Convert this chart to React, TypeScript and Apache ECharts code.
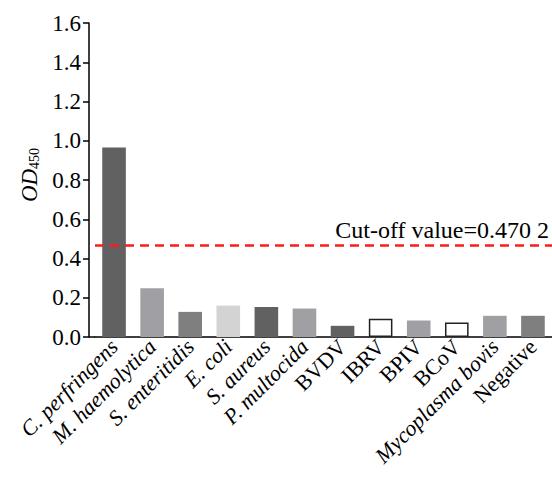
import React, { useEffect, useRef } from "react";
import * as echarts from "echarts";

const categories = [
  "C. perfringens",
  "M. haemolytica",
  "S. enteritidis",
  "E. coli",
  "S. aureus",
  "P. multocida",
  "BVDV",
  "IBRV",
  "BPIV",
  "BCoV",
  "Mycoplasma bovis",
  "Negative",
];
const italicCats = [true, true, true, true, true, true, false, false, false, false, true, false];
const values = [0.965, 0.248, 0.128, 0.16, 0.153, 0.145, 0.057, 0.093, 0.084, 0.074, 0.108, 0.108];
const fillColors = ["#616161", "#a0a0a4", "#7f7f7f", "#d3d3d3", "#616161", "#a0a0a4", "#616161", "#ffffff", "#a0a0a4", "#ffffff", "#a0a0a4", "#7f7f7f"];
const outlined = [false, false, false, false, false, false, false, true, false, true, false, false];
const cutoff = 0.4702;
const cutoffLabel = "Cut-off value=0.470 2";

const FONT = "Liberation Serif";
const GRID_LEFT = 95;
const GRID_RIGHT = -3;
const GRID_TOP = 23;
const GRID_BOTTOM = 141;
const Y_OFFSET = 6;

export default function App() {
  const ref = useRef<HTMLDivElement>(null);
  useEffect(() => {
    if (!ref.current) return;
    const chart = echarts.init(ref.current, null, { renderer: "svg" });
    chart.setOption({
      animation: false,
      backgroundColor: "#ffffff",
      textStyle: { fontFamily: FONT },
      grid: { left: GRID_LEFT, right: GRID_RIGHT, top: GRID_TOP, bottom: GRID_BOTTOM, containLabel: false },
      graphic: [
        {
          type: "line",
          shape: { x1: GRID_LEFT - Y_OFFSET, y1: 478 - GRID_BOTTOM, x2: GRID_LEFT, y2: 478 - GRID_BOTTOM },
          style: { stroke: "#000", lineWidth: 1.5 },
          silent: true,
        },
      ],
      xAxis: {
        type: "category",
        data: categories,
        axisLine: { lineStyle: { color: "#000", width: 1.5 } },
        axisTick: { show: false },
        axisLabel: {
          rotate: 45,
          interval: 0,
          margin: 6,
          color: "#000",
          fontFamily: FONT,
          fontSize: 22,
          formatter: (v: string, i: number) => (italicCats[i] ? `{i|${v}}` : `{n|${v}}`),
          rich: {
            i: { fontStyle: "italic", fontFamily: FONT, fontSize: 22, color: "#000" },
            n: { fontStyle: "normal", fontFamily: FONT, fontSize: 22, color: "#000" },
          },
        },
      },
      yAxis: {
        type: "value",
        min: 0,
        max: 1.6,
        interval: 0.2,
        offset: Y_OFFSET,
        name: "{i|OD}{s|450}",
        nameLocation: "middle",
        nameGap: 46,
        nameRotate: 90,
        nameTextStyle: {
          padding: [0, 0, 0, 10],
          rich: {
            i: { fontStyle: "italic", fontFamily: FONT, fontSize: 23, color: "#000" },
            s: { fontFamily: FONT, fontSize: 14, color: "#000", verticalAlign: "bottom", padding: [9, 0, 0, 0] },
          },
        },
        splitLine: { show: false },
        axisLine: { show: true, lineStyle: { color: "#000", width: 1.5 } },
        axisTick: { show: true, inside: false, length: 6, lineStyle: { color: "#000", width: 1.5 } },
        axisLabel: {
          color: "#000",
          fontFamily: FONT,
          fontSize: 23,
          margin: 8,
          formatter: (v: number) => v.toFixed(1),
        },
      },
      series: [
        {
          type: "bar",
          barWidth: "62%",
          data: values.map((v, i) => ({
            value: v,
            itemStyle: {
              color: fillColors[i],
              borderColor: outlined[i] ? "#222" : fillColors[i],
              borderWidth: outlined[i] ? 1.5 : 0,
            },
          })),
          markLine: {
            silent: true,
            symbol: "none",
            lineStyle: { color: "#ff1a1a", type: [9, 6], width: 2.5 },
            label: {
              show: true,
              position: "insideEndTop",
              formatter: cutoffLabel,
              color: "#000",
              fontFamily: FONT,
              fontSize: 24,
              padding: [0, 3, 0, 0],
              distance: [0, 3],
            },
            data: [{ yAxis: cutoff }],
          },
        },
      ],
    });
    return () => chart.dispose();
  }, []);
  return (
    <div
      ref={ref}
      style={{ position: "fixed", left: 0, top: 0, width: 552, height: 478, background: "#fff" }}
    />
  );
}
